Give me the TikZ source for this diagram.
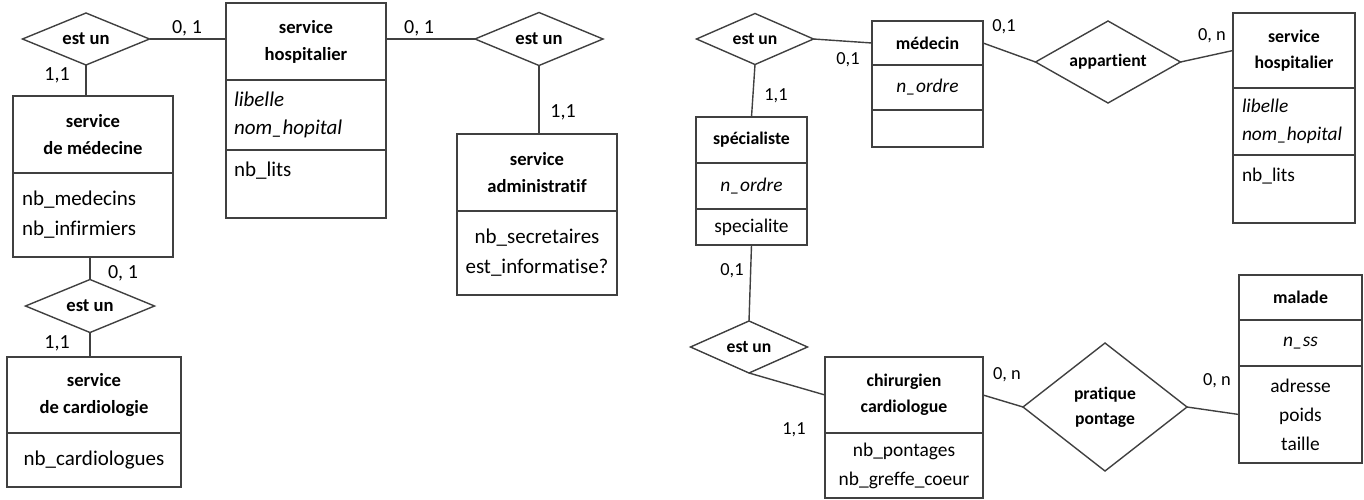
\documentclass[tikz,border=0pt]{standalone}
\usepackage{fontspec}
\setmainfont{Carlito}[Ligatures=NoCommon]
\usetikzlibrary{shapes.geometric,positioning}
\definecolor{trait}{RGB}{64,64,64}
\tikzset{
  ent/.style={draw=trait,line width=0.7pt,rectangle,inner sep=0pt,outer sep=0pt,align=center},
  titre/.style={ent,font=\bfseries\fontsize{9.3}{13.5}\selectfont},
  titrer/.style={ent,font=\bfseries\fontsize{8.9}{13}\selectfont},
  attr/.style={ent,font=\fontsize{10.5}{15}\selectfont},
  attrr/.style={ent,font=\fontsize{9.7}{14.5}\selectfont},
  cle/.style={ent,font=\itshape\fontsize{10.5}{14}\selectfont},
  cler/.style={ent,font=\itshape\fontsize{9.7}{14}\selectfont},
  rel/.style={draw=trait,line width=0.7pt,diamond,shape aspect=2.4,inner sep=0pt,outer sep=0pt,
    font=\bfseries\fontsize{9.3}{12.5}\selectfont,align=center},
  relr/.style={rel,font=\bfseries\fontsize{8.8}{12.5}\selectfont},
  card/.style={inner sep=0pt,font=\fontsize{10}{12}\selectfont},
  cardr/.style={inner sep=0pt,font=\fontsize{9.2}{12}\selectfont},
  lien/.style={draw=trait,line width=0.7pt}
}
\begin{document}
\begin{tikzpicture}[x=0.5pt,y=-0.5pt]
\useasboundingbox (0,0) rectangle (1364,499);

\node[titre,anchor=north west,minimum width=80pt,minimum height=38.5pt] (shh) at (226,3) {service\\hospitalier};
\node[cle,below=0pt of shh,minimum width=80pt,minimum height=35pt,text width=72pt,align=left] (shk) {libelle\\nom\_hopital};
\node[attr,below=0pt of shk,minimum width=80pt,minimum height=34pt,text width=72pt,align=left] (sha) {nb\_lits\\\mbox{}};

\node[titre,anchor=north west,minimum width=80pt,minimum height=38.5pt] (smh) at (13,96) {service\\de médecine};
\node[attr,below=0pt of smh,minimum width=80pt,minimum height=42pt,text width=71pt,align=left] (sma) {nb\_medecins\\nb\_infirmiers};

\node[titre,anchor=north west,minimum width=80pt,minimum height=38.5pt] (sah) at (457,134) {service\\administratif};
\node[attr,below=0pt of sah,minimum width=80pt,minimum height=42pt] (saa) {nb\_secretaires\\est\_informatise?};

\node[titre,anchor=north west,minimum width=87pt,minimum height=38pt] (sch) at (7,357) {service\\de cardiologie};
\node[attr,below=0pt of sch,minimum width=87pt,minimum height=27pt] (sca) {nb\_cardiologues};

\node[rel,minimum width=63.5pt,minimum height=26pt] (r1) at (86,39) {est un};
\node[rel,minimum width=64pt,minimum height=26.5pt] (r2) at (539,39) {est un};
\node[rel,minimum width=64.5pt,minimum height=26.5pt] (r3) at (90,306) {est un};

\node[card] (c1) at (187,28) {0, 1};
\node[card] (c2) at (57,75) {1,1};
\node[card] (c3) at (419,28) {0, 1};
\node[card] (c4) at (563,112) {1,1};
\node[card] (c5) at (123,273) {0, 1};
\node[card] (c6) at (57,343) {1,1};

\draw[lien] (r1.east) -- (r1.east -| shh.west);
\draw[lien] (shh.east |- r2.west) -- (r2.west);
\draw[lien] (r1.south) -- (r1.south |- smh.north);
\draw[lien] (r2.south) -- (r2.south |- sah.north);
\draw[lien] (r3.north |- sma.south) -- (r3.north);
\draw[lien] (r3.south) -- (r3.south |- sch.north);

\node[titrer,anchor=north west,minimum width=55.5pt,minimum height=22pt] (medh) at (872,21) {médecin};
\node[cler,below=0pt of medh,minimum width=55.5pt,minimum height=22.5pt] (medk) {n\_ordre};
\node[attrr,below=0pt of medk,minimum width=55.5pt,minimum height=18.5pt] (meda) {};

\node[titrer,anchor=north west,minimum width=55.5pt,minimum height=23pt] (speh) at (696,117) {spécialiste};
\node[cler,below=0pt of speh,minimum width=55.5pt,minimum height=23pt] (spek) {n\_ordre};
\node[attrr,below=0pt of spek,minimum width=55.5pt,minimum height=18pt] (spea) {specialite};

\node[titrer,anchor=north west,minimum width=61pt,minimum height=37.5pt] (sh2h) at (1233,13) {service\\hospitalier};
\node[cler,below=0pt of sh2h,minimum width=61pt,minimum height=33.5pt,text width=52pt,align=left] (sh2k) {libelle\\nom\_hopital};
\node[attrr,below=0pt of sh2k,minimum width=61pt,minimum height=34pt,text width=52pt,align=left] (sh2a) {nb\_lits\\\mbox{}};

\node[titrer,anchor=north west,minimum width=79pt,minimum height=38pt] (chirh) at (825,357) {chirurgien\\cardiologue};
\node[attrr,below=0pt of chirh,minimum width=79pt,minimum height=32.5pt] (chira) {nb\_pontages\\nb\_greffe\_coeur};

\node[titrer,anchor=north west,minimum width=61.5pt,minimum height=22.5pt] (malh) at (1239,275) {malade};
\node[cler,below=0pt of malh,minimum width=61.5pt,minimum height=23pt] (malk) {n\_ss};
\node[attrr,below=0pt of malk,minimum width=61.5pt,minimum height=48.5pt] (mala) {adresse\\poids\\taille};

\node[relr,minimum width=58.5pt,minimum height=25.5pt] (r4) at (755,39) {est un};
\node[relr,minimum width=58.5pt,minimum height=26pt] (r5) at (749,347) {est un};
\node[relr,shape aspect=1.77,minimum width=72.5pt,minimum height=41pt] (ra) at (1108,62) {appartient};
\node[relr,shape aspect=1.28,minimum width=82pt,minimum height=64pt] (rp) at (1105,407) {pratique\\pontage};

\node[cardr] (c7) at (848,60) {0,1};
\node[cardr] (c8) at (776,96) {1,1};
\node[cardr] (c9) at (1004,27) {0,1};
\node[cardr] (c10) at (1212,36) {0, n};
\node[cardr] (c11) at (732,271) {0,1};
\node[cardr] (c12) at (794,430) {1,1};
\node[cardr] (c13) at (1007,375) {0, n};
\node[cardr] (c14) at (1217,381) {0, n};

\draw[lien] (r4.east) -- (medh.west);
\draw[lien] (r4.south) -- (speh.north);
\draw[lien] (spea.south) -- (r5.north);
\draw[lien] (r5.south) -- (chirh.west);
\draw[lien] (medh.east) -- (ra.west);
\draw[lien] (ra.east) -- (sh2h.west);
\draw[lien] (chirh.east) -- (rp.west);
\draw[lien] (rp.east) -- (mala.west);

\end{tikzpicture}
\end{document}
